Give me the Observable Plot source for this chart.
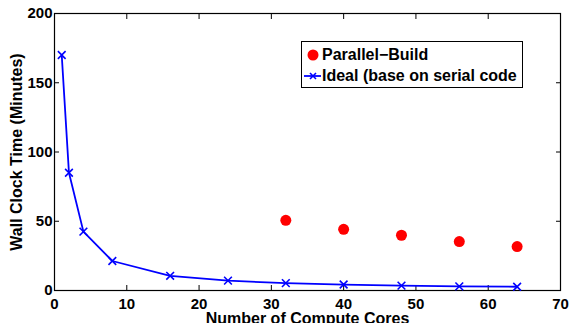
<!DOCTYPE html>
<html>
<head>
<meta charset="utf-8">
<script src="https://cdn.jsdelivr.net/npm/d3@7"></script>
<script src="https://cdn.jsdelivr.net/npm/@observablehq/plot@0.6"></script>
<style>
  html, body { margin: 0; padding: 0; background: #fff; }
  #wrap { position: relative; width: 570px; height: 323px; overflow: hidden; font-family: "Liberation Sans", Arial, sans-serif; }
  #legend { position: absolute; left: 301px; top: 41px; width: 220px; height: 45px; border: 1px solid #000; background: #fff; font-weight: bold; font-size: 16px; }
  .row { position: absolute; left: 0; height: 20px; display: flex; align-items: center; }
  .row span.t { position: absolute; left: 20px; white-space: nowrap; }
</style>
</head>
<body>
<div id="wrap"></div>
<script>
const cores = [1, 2, 4, 8, 16, 24, 32, 40, 48, 56, 64];
const idealMinutes = [170, 85, 42.5, 21.3, 10.6, 7.1, 5.3, 4.3, 3.5, 3.0, 2.7];
const parallelCores = [32, 40, 48, 56, 64];
const parallelMinutes = [50.7, 44.2, 39.9, 35.3, 31.7];
const xTicks = [0, 10, 20, 30, 40, 50, 60, 70];
const yTicks = [0, 50, 100, 150, 200];
const seriesNames = ["Parallel\u2212Build", "Ideal (base on serial code"];
const xLabel = "Number of Compute Cores";
const yLabel = "Wall Clock Time (Minutes)";

const ideal = cores.map((c, i) => ({cores: c, minutes: idealMinutes[i]}));
const parallel = parallelCores.map((c, i) => ({cores: c, minutes: parallelMinutes[i]}));

const fontStyle = {fontFamily: "Liberation Sans, Arial, sans-serif", fontWeight: "bold"};

const chart = Plot.plot({
  width: 570,
  height: 323,
  marginLeft: 54,
  marginRight: 10,
  marginTop: 13,
  marginBottom: 33,
  style: {fontFamily: "Liberation Sans, Arial, sans-serif", fontSize: "15px", fontWeight: "bold", color: "#000", background: "#fff", overflow: "visible"},
  x: {domain: [0, 70]},
  y: {domain: [0, 200]},
  marks: [
    Plot.frame({stroke: "#000", strokeWidth: 1.2}),
    Plot.axisX(xTicks, {anchor: "bottom", tickSize: -5, tickPadding: 13, label: null, fontSize: 15, fontWeight: "bold", stroke: "#000"}),
    Plot.axisX(xTicks, {anchor: "top", tickSize: -5, tickFormat: () => "", label: null, stroke: "#000"}),
    Plot.axisY(yTicks, {anchor: "left", tickSize: -5, tickPadding: 7, label: null, fontSize: 15, fontWeight: "bold", stroke: "#000"}),
    Plot.axisY(yTicks, {anchor: "right", tickSize: -5, tickFormat: () => "", label: null, stroke: "#000"}),
    Plot.line(ideal, {x: "cores", y: "minutes", stroke: "#0000ff", strokeWidth: 1.8}),
    Plot.dot(ideal, {x: "cores", y: "minutes", symbol: "times", r: 3.6, stroke: "#0000ff", strokeWidth: 1.6}),
    Plot.dot(parallel, {x: "cores", y: "minutes", r: 5.5, fill: "#ff0000", stroke: "none"}),
    Plot.text([xLabel], {frameAnchor: "bottom", lineAnchor: "top", textAnchor: "middle", dy: 22, fontSize: 16, ...fontStyle, fill: "#000"}),
    Plot.text([yLabel], {frameAnchor: "left", rotate: -90, textAnchor: "middle", lineAnchor: "middle", dx: -38, fontSize: 16, ...fontStyle, fill: "#000"})
  ]
});

const wrap = document.getElementById("wrap");
wrap.appendChild(chart);

const legend = document.createElement("div");
legend.id = "legend";
legend.innerHTML = `
  <div class="row" style="top:3px;width:100%">
    <svg width="20" height="20" style="position:absolute;left:0;top:0"><circle cx="11" cy="10" r="5.5" fill="#ff0000"/></svg>
    <span class="t">${seriesNames[0]}</span>
  </div>
  <div class="row" style="top:24px;width:100%">
    <svg width="20" height="20" style="position:absolute;left:0;top:0"><line x1="2" x2="19" y1="10" y2="10" stroke="#0000ff" stroke-width="1.8"/><path d="M8,7L14,13M8,13L14,7" stroke="#0000ff" stroke-width="1.6"/></svg>
    <span class="t">${seriesNames[1]}</span>
  </div>`;
wrap.appendChild(legend);
</script>
</body>
</html>
